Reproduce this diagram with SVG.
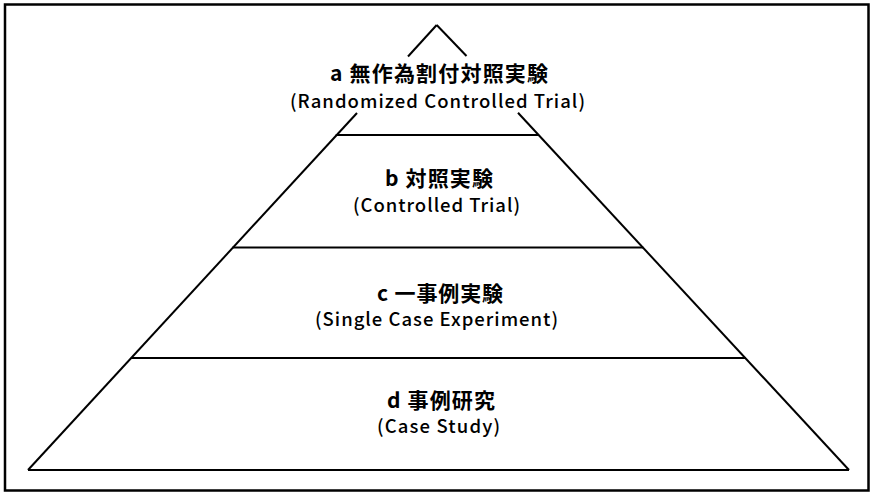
<svg xmlns="http://www.w3.org/2000/svg" width="872" height="492" viewBox="0 0 872 492">
<style>
.ln{stroke:#000;stroke-width:2;fill:none;stroke-linecap:butt}
.t1{font-family:"Noto Sans CJK JP","Noto Sans",sans-serif;font-size:21px;font-weight:bold;fill:#000;text-anchor:middle}
.t2{font-family:"Noto Sans CJK JP","Noto Sans",sans-serif;font-size:18.5px;font-weight:500;fill:#000;text-anchor:middle}
</style>
<rect x="0" y="0" width="872" height="492" fill="#fff"/>
<rect x="5" y="4.5" width="863.5" height="486" fill="none" stroke="#000" stroke-width="2.5"/>
<g id="pyramid" class="ln">
<line x1="436.7" y1="25" x2="408" y2="56.5"/>
<line x1="436.7" y1="25" x2="466.5" y2="56"/>
<line x1="357" y1="113" x2="28" y2="470"/>
<line x1="518" y1="112.7" x2="849" y2="470"/>
<line x1="335.7" y1="135" x2="538.8" y2="135"/>
<line x1="232.4" y1="247.5" x2="643.3" y2="247.5"/>
<line x1="130.9" y1="358" x2="745.9" y2="358"/>
<line x1="28" y1="470" x2="849" y2="470"/>
</g>
<g id="tier-a">
<text class="t1" x="439" y="81" textLength="218" lengthAdjust="spacing">a 無作為割付対照実験</text>
<text class="t2" x="437.5" y="107.5" textLength="295" lengthAdjust="spacing">(Randomized Controlled Trial)</text>
</g>
<g id="tier-b">
<text class="t1" x="439" y="186" textLength="108" lengthAdjust="spacing">b 対照実験</text>
<text class="t2" x="436.5" y="212" textLength="167" lengthAdjust="spacing">(Controlled Trial)</text>
</g>
<g id="tier-c">
<text class="t1" x="440" y="301" textLength="126" lengthAdjust="spacing">c 一事例実験</text>
<text class="t2" x="436.5" y="325.5" textLength="243" lengthAdjust="spacing">(Single Case Experiment)</text>
</g>
<g id="tier-d">
<text class="t1" x="441" y="407.5" textLength="108" lengthAdjust="spacing">d 事例研究</text>
<text class="t2" x="438.5" y="433" textLength="123" lengthAdjust="spacing">(Case Study)</text>
</g>
</svg>
